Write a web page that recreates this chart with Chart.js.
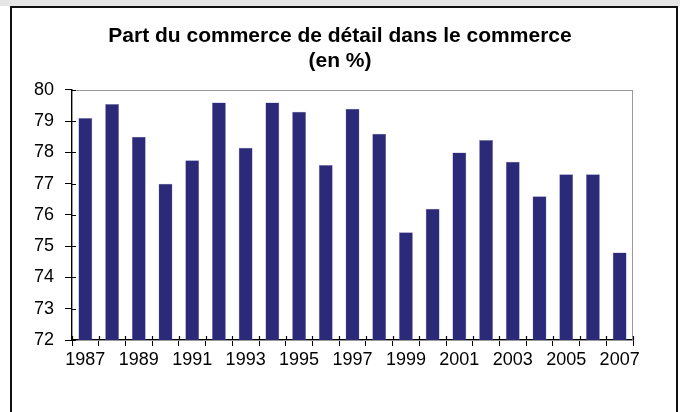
<!DOCTYPE html>
<html>
<head>
<meta charset="utf-8">
<script src="https://cdn.jsdelivr.net/npm/chart.js@4"></script>
<style>
  body { margin: 0; background: #fff; }
  #haut { position: absolute; left: 0; top: 0; width: 680px; height: 6px; background: #e6e6e6; }
  #cadre { position: absolute; left: 10px; top: 6px; width: 664px; height: 420px; border: 2px solid #111; background: #fff; }
  #zone { position: absolute; left: 0; top: 0; width: 680px; height: 412px; }
</style>
</head>
<body>
<div id="haut"></div>
<div id="cadre"></div>
<div id="zone"><canvas id="graphique" width="680" height="412"></canvas></div>
<script>
// Données
const annees = ['1987','1988','1989','1990','1991','1992','1993','1994','1995','1996','1997',
                '1998','1999','2000','2001','2002','2003','2004','2005','2006','2007'];
const partDetail = [79.1, 79.55, 78.5, 77.0, 77.75, 79.6, 78.15, 79.6, 79.3, 77.6, 79.4,
                    78.6, 75.45, 76.2, 78.0, 78.4, 77.7, 76.6, 77.3, 77.3, 74.8];
const titre = ['Part du commerce de détail dans le commerce', '(en %)'];

const police = 'Liberation Sans, Arial, sans-serif';

// cadre gris du graphique (haut et droite) + petites graduations vers l'intérieur
const cadreGris = {
    id: 'cadreGris',
    beforeDatasetsDraw(chart) {
        const a = chart.chartArea;
        const ctx = chart.ctx;
        ctx.save();
        ctx.strokeStyle = '#999';
        ctx.lineWidth = 1;
        ctx.strokeRect(a.left + 0.5, a.top + 0.5, a.right - a.left - 1, a.bottom - a.top);
        ctx.restore();
    },
    afterDraw(chart) {
        const a = chart.chartArea;
        const ctx = chart.ctx;
        const y = chart.scales.y;
        ctx.save();
        ctx.strokeStyle = '#000';
        ctx.lineWidth = 1.2;
        ctx.beginPath();
        y.ticks.forEach((t, i) => {
            const py = Math.round(y.getPixelForTick(i)) + 0.5;
            ctx.moveTo(a.left, py);
            ctx.lineTo(a.left + 4, py);
        });
        for (let i = 0; i <= annees.length; i++) {
            const px = Math.round(a.left + (a.right - a.left) * i / annees.length) + 0.5;
            ctx.moveTo(px, a.bottom);
            ctx.lineTo(px, a.bottom - 4);
        }
        ctx.stroke();
        ctx.restore();
    }
};

const ctx = document.getElementById('graphique').getContext('2d');
const graphique = new Chart(ctx, {
    type: 'bar',
    data: {
        labels: annees,
        datasets: [{
            data: partDetail,
            backgroundColor: '#2a2a78',
            borderColor: '#8a8ac0',
            borderWidth: 0.5,
            barPercentage: 0.52,
            categoryPercentage: 1
        }]
    },
    options: {
        responsive: false,
        animation: false,
        layout: { padding: { left: 0, right: 0, top: 0, bottom: 0 } },
        plugins: {
            legend: { display: false },
            tooltip: { enabled: false },
            title: {
                display: true,
                text: titre,
                color: '#000',
                font: { family: police, size: 21, weight: 'bold', lineHeight: 1.19 },
                padding: { top: 24, bottom: 16 }
            }
        },
        scales: {
            x: {
                afterFit(scale) { scale.height = 72; },
                grid: { drawOnChartArea: false, color: '#000', tickLength: 6, tickColor: '#000' },
                border: { color: '#000', width: 1.5 },
                ticks: {
                    autoSkip: false,
                    maxRotation: 0,
                    padding: 3,
                    color: '#000',
                    font: { family: police, size: 18 },
                    callback: function(valeur, index) {
                        return index % 2 === 0 ? annees[index] : '';
                    }
                }
            },
            y: {
                min: 72,
                max: 80,
                afterFit(scale) { scale.width = 72; },
                grid: { drawOnChartArea: false, tickLength: 7, tickColor: '#000' },
                border: { color: '#000', width: 1.5 },
                ticks: {
                    stepSize: 1,
                    padding: 11,
                    color: '#000',
                    font: { family: police, size: 18 }
                }
            },
            // axe vide à droite pour réserver la marge
            marge: {
                type: 'linear',
                position: 'right',
                afterFit(scale) { scale.width = 47; },
                grid: { display: false },
                border: { display: false },
                ticks: { display: false }
            }
        }
    },
    plugins: [cadreGris]
});
</script>
</body>
</html>
